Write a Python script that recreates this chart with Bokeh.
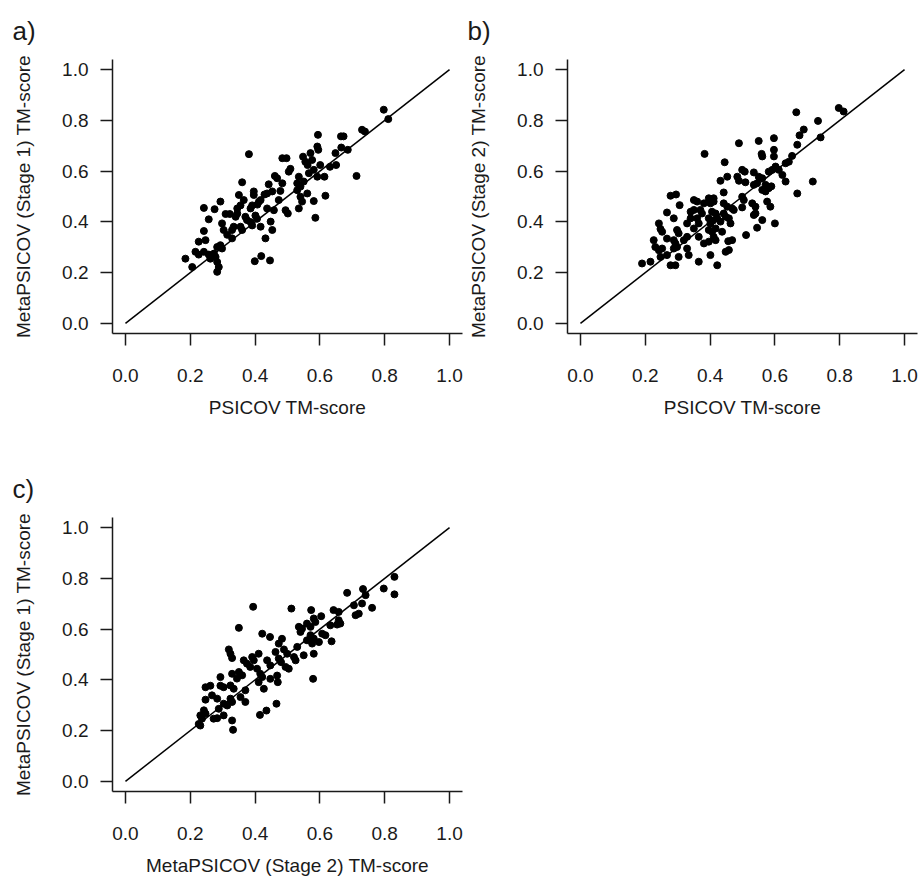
from bokeh.plotting import figure
from bokeh.layouts import gridplot
from bokeh.models import FixedTicker, NumeralTickFormatter, Title, Range1d
from bokeh.embed import file_html
from bokeh.resources import INLINE

# ---------------- data ----------------
ticks = [0.0, 0.2, 0.4, 0.6, 0.8, 1.0]
identity = [0.0, 1.0]

a_x = [0.797, 0.811, 0.730, 0.739, 0.594, 0.665, 0.673, 0.592, 0.595, 0.666, 0.686, 0.648,
       0.381, 0.484, 0.497, 0.548, 0.571, 0.555, 0.562, 0.576, 0.601, 0.631, 0.650, 0.504,
       0.509, 0.535, 0.581, 0.566, 0.592, 0.614, 0.713, 0.461, 0.468, 0.360, 0.442, 0.484,
       0.530, 0.540, 0.550, 0.396, 0.396, 0.350, 0.429, 0.437, 0.453, 0.478, 0.561, 0.530,
       0.617, 0.365, 0.293, 0.417, 0.412, 0.407, 0.473, 0.540, 0.545, 0.581, 0.242, 0.275,
       0.345, 0.355, 0.386, 0.391, 0.437, 0.458, 0.494, 0.501, 0.535, 0.309, 0.322, 0.340,
       0.345, 0.370, 0.375, 0.401, 0.406, 0.257, 0.448, 0.586, 0.298, 0.329, 0.334, 0.360,
       0.355, 0.386, 0.391, 0.417, 0.453, 0.242, 0.303, 0.314, 0.329, 0.432, 0.226, 0.247,
       0.283, 0.293, 0.298, 0.216, 0.226, 0.242, 0.257, 0.273, 0.278, 0.185, 0.262, 0.283,
       0.288, 0.206, 0.283, 0.399, 0.419, 0.446]
a_y = [0.842, 0.805, 0.763, 0.756, 0.743, 0.737, 0.737, 0.697, 0.684, 0.693, 0.684, 0.671,
       0.667, 0.651, 0.651, 0.657, 0.671, 0.637, 0.624, 0.644, 0.624, 0.617, 0.624, 0.598,
       0.609, 0.578, 0.605, 0.592, 0.578, 0.578, 0.581, 0.581, 0.572, 0.556, 0.548, 0.552,
       0.552, 0.539, 0.559, 0.520, 0.506, 0.506, 0.508, 0.512, 0.520, 0.522, 0.512, 0.525,
       0.503, 0.486, 0.480, 0.486, 0.480, 0.468, 0.486, 0.499, 0.480, 0.482, 0.455, 0.450,
       0.453, 0.465, 0.453, 0.465, 0.453, 0.446, 0.446, 0.433, 0.453, 0.431, 0.431, 0.420,
       0.433, 0.420, 0.407, 0.425, 0.412, 0.410, 0.401, 0.416, 0.394, 0.368, 0.381, 0.368,
       0.381, 0.399, 0.386, 0.381, 0.368, 0.364, 0.368, 0.349, 0.335, 0.335, 0.322, 0.328,
       0.301, 0.308, 0.295, 0.282, 0.271, 0.282, 0.271, 0.275, 0.262, 0.255, 0.255, 0.242,
       0.222, 0.222, 0.203, 0.245, 0.265, 0.248]

b_x = [0.797, 0.812, 0.666, 0.733, 0.689, 0.676, 0.741, 0.669, 0.489, 0.550, 0.597, 0.383,
       0.559, 0.561, 0.597, 0.597, 0.653, 0.633, 0.643, 0.445, 0.602, 0.612, 0.581, 0.592,
       0.499, 0.507, 0.535, 0.453, 0.432, 0.484, 0.489, 0.550, 0.561, 0.623, 0.633, 0.717,
       0.509, 0.535, 0.545, 0.571, 0.581, 0.589, 0.561, 0.571, 0.669, 0.442, 0.499, 0.504,
       0.278, 0.295, 0.350, 0.360, 0.396, 0.411, 0.411, 0.401, 0.306, 0.381, 0.442, 0.453,
       0.530, 0.540, 0.576, 0.586, 0.473, 0.468, 0.499, 0.267, 0.340, 0.350, 0.370, 0.375,
       0.406, 0.417, 0.442, 0.448, 0.288, 0.329, 0.340, 0.360, 0.365, 0.396, 0.409, 0.401,
       0.422, 0.432, 0.458, 0.463, 0.535, 0.540, 0.561, 0.242, 0.600, 0.247, 0.252, 0.298,
       0.303, 0.350, 0.396, 0.406, 0.417, 0.437, 0.545, 0.226, 0.267, 0.288, 0.293, 0.319,
       0.329, 0.365, 0.411, 0.417, 0.511, 0.381, 0.396, 0.456, 0.468, 0.231, 0.242, 0.252,
       0.288, 0.298, 0.329, 0.448, 0.458, 0.247, 0.267, 0.303, 0.334, 0.365, 0.401, 0.190,
       0.216, 0.278, 0.293, 0.422]
b_y = [0.849, 0.835, 0.832, 0.798, 0.764, 0.741, 0.733, 0.704, 0.710, 0.719, 0.730, 0.668,
       0.668, 0.658, 0.684, 0.658, 0.660, 0.631, 0.637, 0.635, 0.618, 0.605, 0.598, 0.605,
       0.605, 0.598, 0.595, 0.578, 0.562, 0.578, 0.562, 0.578, 0.572, 0.585, 0.559, 0.559,
       0.556, 0.546, 0.552, 0.546, 0.533, 0.540, 0.526, 0.520, 0.512, 0.516, 0.499, 0.486,
       0.503, 0.508, 0.486, 0.480, 0.493, 0.493, 0.480, 0.473, 0.466, 0.473, 0.473, 0.460,
       0.473, 0.460, 0.480, 0.460, 0.447, 0.453, 0.457, 0.437, 0.440, 0.447, 0.447, 0.433,
       0.440, 0.433, 0.433, 0.420, 0.414, 0.394, 0.414, 0.414, 0.394, 0.414, 0.405, 0.394,
       0.414, 0.401, 0.414, 0.394, 0.427, 0.433, 0.407, 0.394, 0.394, 0.372, 0.361, 0.368,
       0.355, 0.374, 0.368, 0.361, 0.374, 0.361, 0.377, 0.328, 0.334, 0.328, 0.315, 0.328,
       0.341, 0.341, 0.341, 0.328, 0.348, 0.315, 0.322, 0.324, 0.328, 0.301, 0.288, 0.295,
       0.295, 0.301, 0.295, 0.282, 0.289, 0.262, 0.269, 0.262, 0.269, 0.243, 0.269, 0.236,
       0.243, 0.229, 0.229, 0.229]

c_x = [0.830, 0.830, 0.797, 0.733, 0.741, 0.684, 0.730, 0.705, 0.761, 0.710, 0.720, 0.394,
       0.512, 0.573, 0.642, 0.658, 0.604, 0.581, 0.586, 0.560, 0.571, 0.658, 0.663, 0.653,
       0.632, 0.350, 0.535, 0.540, 0.545, 0.607, 0.617, 0.571, 0.581, 0.422, 0.446, 0.483,
       0.473, 0.560, 0.576, 0.597, 0.636, 0.530, 0.489, 0.499, 0.463, 0.581, 0.550, 0.319,
       0.324, 0.329, 0.411, 0.520, 0.525, 0.473, 0.480, 0.391, 0.396, 0.365, 0.375, 0.437,
       0.447, 0.494, 0.504, 0.385, 0.406, 0.350, 0.360, 0.329, 0.344, 0.416, 0.422, 0.447,
       0.468, 0.293, 0.470, 0.579, 0.411, 0.427, 0.247, 0.262, 0.293, 0.303, 0.324, 0.334,
       0.370, 0.267, 0.283, 0.247, 0.324, 0.329, 0.355, 0.370, 0.303, 0.314, 0.288, 0.242,
       0.247, 0.231, 0.236, 0.226, 0.231, 0.272, 0.283, 0.303, 0.329, 0.332, 0.415, 0.435,
       0.466]
c_y = [0.806, 0.737, 0.760, 0.758, 0.734, 0.743, 0.701, 0.694, 0.684, 0.655, 0.661, 0.688,
       0.681, 0.675, 0.675, 0.668, 0.651, 0.642, 0.628, 0.622, 0.609, 0.635, 0.622, 0.618,
       0.615, 0.605, 0.609, 0.589, 0.602, 0.582, 0.576, 0.576, 0.563, 0.582, 0.569, 0.562,
       0.543, 0.556, 0.543, 0.549, 0.552, 0.530, 0.520, 0.503, 0.510, 0.503, 0.497, 0.520,
       0.503, 0.486, 0.503, 0.490, 0.477, 0.484, 0.470, 0.490, 0.477, 0.477, 0.464, 0.477,
       0.457, 0.451, 0.444, 0.451, 0.444, 0.431, 0.418, 0.424, 0.405, 0.424, 0.411, 0.404,
       0.417, 0.411, 0.391, 0.404, 0.391, 0.365, 0.371, 0.377, 0.377, 0.371, 0.378, 0.365,
       0.359, 0.339, 0.326, 0.322, 0.326, 0.313, 0.332, 0.313, 0.306, 0.299, 0.286, 0.280,
       0.267, 0.260, 0.247, 0.226, 0.220, 0.247, 0.249, 0.260, 0.240, 0.203, 0.262, 0.279,
       0.306]

panels = [
    ("a)", a_x, a_y, "PSICOV TM-score", "MetaPSICOV (Stage 1) TM-score"),
    ("b)", b_x, b_y, "PSICOV TM-score", "MetaPSICOV (Stage 2) TM-score"),
    ("c)", c_x, c_y, "MetaPSICOV (Stage 2) TM-score", "MetaPSICOV (Stage 1) TM-score"),
]

FONT = "Liberation Sans"
FRAME_W = 350
FRAME_H = 274
INK = "#1a1a1a"


def make_panel(tag, xs, ys, xlabel, ylabel, width, height, top, left):
    p = figure(width=width, height=height, output_backend="svg", toolbar_location=None,
               x_range=Range1d(-0.04, 1.04), y_range=Range1d(-0.04, 1.04),
               min_border_left=left, min_border_right=width - left - FRAME_W,
               min_border_top=top, min_border_bottom=height - top - FRAME_H)
    p.outline_line_color = None
    p.xgrid.grid_line_color = None
    p.ygrid.grid_line_color = None
    p.background_fill_color = "white"
    p.border_fill_color = "white"

    for ax in (p.xaxis[0], p.yaxis[0]):
        ax.ticker = FixedTicker(ticks=ticks)
        ax.formatter = NumeralTickFormatter(format="0.0")
        ax.minor_tick_line_color = None
        ax.major_tick_in = 0
        ax.major_tick_out = 12
        ax.axis_line_width = 1.5
        ax.major_tick_line_width = 1.5
        ax.axis_line_color = INK
        ax.major_tick_line_color = INK
        ax.major_label_text_font = FONT
        ax.major_label_text_font_size = "19px"
        ax.major_label_text_color = INK
        ax.axis_label_text_font = FONT
        ax.axis_label_text_font_size = "19px"
        ax.axis_label_text_font_style = "normal"
        ax.axis_label_text_color = INK

    p.xaxis.axis_label = xlabel
    p.yaxis.axis_label = ylabel
    p.xaxis.major_label_standoff = 23
    p.yaxis.major_label_standoff = 12
    p.xaxis.axis_label_standoff = 12
    p.yaxis.axis_label_standoff = 25

    p.line(identity, identity, line_color="black", line_width=1.5)
    p.scatter(xs, ys, size=7, color="black", marker="circle")

    p.add_layout(Title(text=tag, align="left", offset=-100, standoff=27,
                       text_font=FONT, text_font_size="26px", text_font_style="normal",
                       text_color=INK), "above")
    return p


pa = make_panel(*panels[0], width=463, height=458, top=59, left=112)
pb = make_panel(*panels[1], width=455, height=458, top=59, left=104)
pc = make_panel(*panels[2], width=463, height=428, top=59, left=112)

grid = gridplot([[pa, pb], [pc, None]], toolbar_location=None)

open("out.html", "w").write(file_html(grid, INLINE))
